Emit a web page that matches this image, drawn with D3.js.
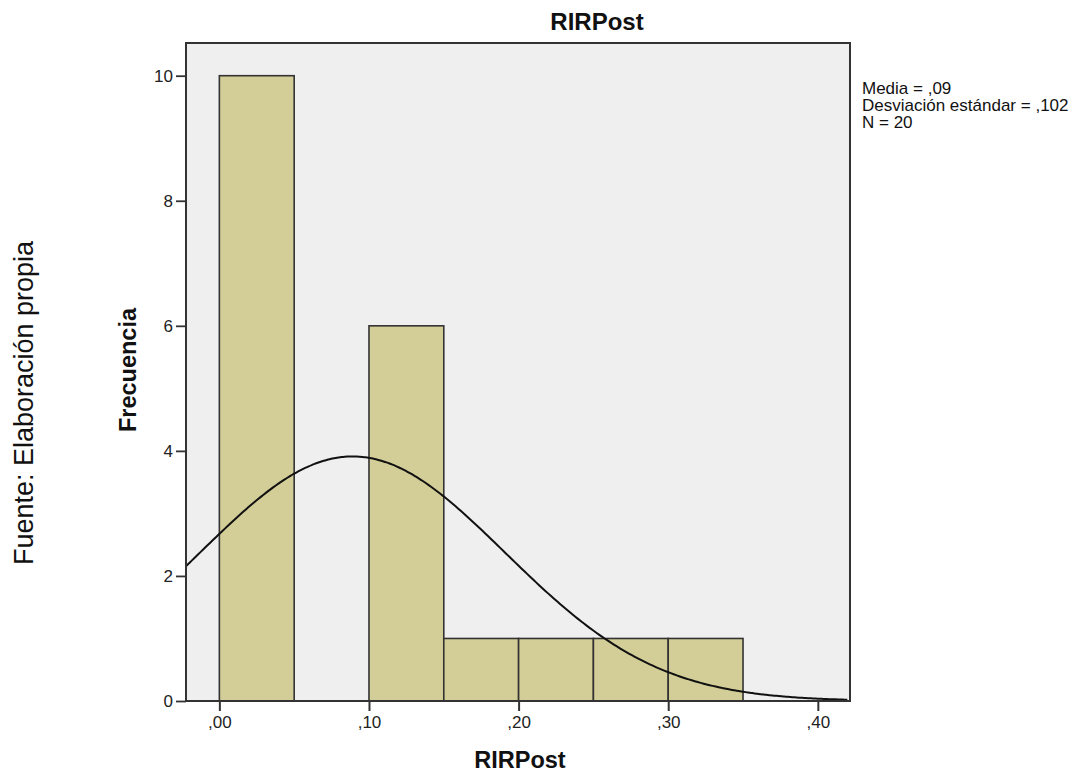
<!DOCTYPE html>
<html>
<head>
<meta charset="utf-8">
<script src="https://cdn.jsdelivr.net/npm/d3@7"></script>
<style>
  html, body { margin: 0; padding: 0; background: #ffffff; }
  svg { display: block; font-family: "Liberation Sans", Arial, sans-serif; }
</style>
</head>
<body>
<svg id="chart" width="1084" height="776"></svg>
<script>
// Histogram bins (lower edge, upper edge) and their frequencies
const binStarts = [0.00, 0.05, 0.10, 0.15, 0.20, 0.25, 0.30];
const binEnds   = [0.05, 0.10, 0.15, 0.20, 0.25, 0.30, 0.35];
const counts    = [10, 0, 6, 1, 1, 1, 1];

// Axis ticks
const xTicks = [0.0, 0.1, 0.2, 0.3, 0.4];
const xTickLabels = [",00", ",10", ",20", ",30", ",40"];
const yTicks = [0, 2, 4, 6, 8, 10];

// Summary statistics used for the normal curve
const mean = 0.089;
const sd = 0.102;
const n = 20;
const binWidth = 0.05;
const statLines = ["Media = ,09", "Desviación estándar = ,102", "N = 20"];

const svg = d3.select("#chart");
const plot = { left: 186, right: 850, top: 43, bottom: 701 };

const x = d3.scaleLinear().domain([-0.0223, 0.4215]).range([plot.left, plot.right]);
const y = d3.scaleLinear().domain([0, 10]).range([701, 75.7]);

// Plot background
svg.append("rect")
  .attr("x", plot.left).attr("y", plot.top)
  .attr("width", plot.right - plot.left).attr("height", plot.bottom - plot.top)
  .attr("fill", "#efefef");

// Bars
const bins = binStarts.map((s, i) => ({ x0: s, x1: binEnds[i], c: counts[i] }));
svg.append("g").selectAll("rect")
  .data(bins.filter(d => d.c > 0))
  .join("rect")
  .attr("x", d => x(d.x0))
  .attr("y", d => y(d.c))
  .attr("width", d => x(d.x1) - x(d.x0))
  .attr("height", d => y(0) - y(d.c))
  .attr("fill", "#d3cd97")
  .attr("stroke", "#333")
  .attr("stroke-width", 1.6);

// Normal density curve scaled to counts
const scale = n * binWidth;
const curvePts = d3.range(x.domain()[0], x.domain()[1] + 1e-9, 0.002).map(v => [
  v, scale * Math.exp(-0.5 * ((v - mean) / sd) ** 2) / (sd * Math.sqrt(2 * Math.PI))
]);
svg.append("path")
  .datum(curvePts)
  .attr("fill", "none")
  .attr("stroke", "#111")
  .attr("stroke-width", 2)
  .attr("d", d3.line().x(d => x(d[0])).y(d => y(d[1])).curve(d3.curveBasis));

// Frame
svg.append("rect")
  .attr("x", plot.left).attr("y", plot.top)
  .attr("width", plot.right - plot.left).attr("height", plot.bottom - plot.top)
  .attr("fill", "none").attr("stroke", "#333").attr("stroke-width", 2);

// Y axis
const yAxis = svg.append("g")
  .attr("transform", `translate(${plot.left},0)`)
  .call(d3.axisLeft(y).tickValues(yTicks).tickSize(10).tickPadding(3).tickFormat(d3.format("d")));
yAxis.select(".domain").remove();
yAxis.selectAll(".tick line").attr("stroke", "#333").attr("stroke-width", 1.8);
yAxis.selectAll(".tick text").attr("font-size", 17).attr("fill", "#222")
  .attr("font-family", "Liberation Sans, Arial, sans-serif");

// X axis
const xAxis = svg.append("g")
  .attr("transform", `translate(0,${plot.bottom})`)
  .call(d3.axisBottom(x).tickValues(xTicks).tickSize(10).tickPadding(5)
    .tickFormat((d, i) => xTickLabels[i]));
xAxis.select(".domain").remove();
xAxis.selectAll(".tick line").attr("stroke", "#333").attr("stroke-width", 2);
xAxis.selectAll(".tick text").attr("font-size", 17).attr("fill", "#222")
  .attr("font-family", "Liberation Sans, Arial, sans-serif");

// Title
svg.append("text")
  .attr("x", 597).attr("y", 30)
  .attr("text-anchor", "middle")
  .attr("font-size", 24).attr("font-weight", "bold").attr("fill", "#111")
  .text("RIRPost");

// X axis label
svg.append("text")
  .attr("x", 520).attr("y", 768)
  .attr("text-anchor", "middle")
  .attr("font-size", 23.5).attr("font-weight", "bold").attr("fill", "#111")
  .text("RIRPost");

// Y axis label
svg.append("text")
  .attr("transform", "translate(136,370) rotate(-90)")
  .attr("text-anchor", "middle")
  .attr("font-size", 23.5).attr("font-weight", "bold").attr("fill", "#111")
  .text("Frecuencia");

// Source note
svg.append("text")
  .attr("transform", "translate(33,403) rotate(-90)")
  .attr("text-anchor", "middle")
  .attr("font-size", 27).attr("fill", "#111")
  .text("Fuente: Elaboración propia");

// Summary statistics
svg.append("g").selectAll("text")
  .data(statLines)
  .join("text")
  .attr("x", 862)
  .attr("y", (d, i) => 94 + i * 17)
  .attr("font-size", 17).attr("fill", "#111")
  .text(d => d);
</script>
</body>
</html>
